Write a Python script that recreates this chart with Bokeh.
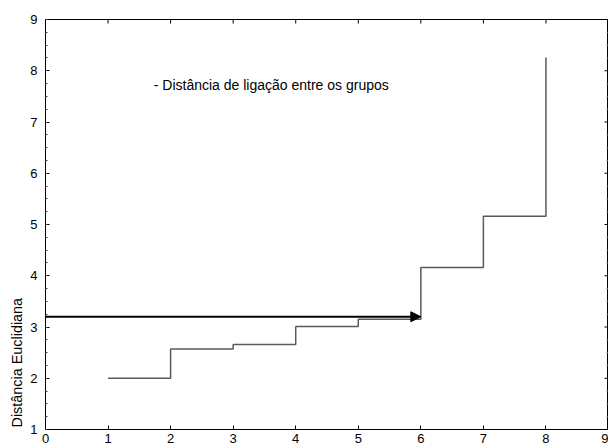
import math
from bokeh.plotting import figure
from bokeh.models import FixedTicker, Title, Arrow, NormalHead, Range1d
from bokeh.core.properties import value
from bokeh.embed import file_html
from bokeh.resources import INLINE

# Data
step_x = [1, 2, 3, 4, 5, 6, 7, 8]
step_y = [2.0, 2.57, 2.66, 3.01, 3.15, 4.16, 5.16, 8.26]
cut_level = 3.2
cut_x_start = 0
cut_x_end = 6
x_ticks = [0, 1, 2, 3, 4, 5, 6, 7, 8, 9]
y_ticks = [1, 2, 3, 4, 5, 6, 7, 8, 9]
y_minor = [1 + i * 0.25 for i in range(33) if (i % 4) != 0]
note_text = "- Distância de ligação entre os grupos"
note_x = 1.73
note_y = 7.73
y_title = "Distância Euclidiana"
x_min, x_max = 0, 9
y_min, y_max = 1, 9

FONT = "Liberation Sans"

p = figure(width=608, height=445, x_range=Range1d(x_min, x_max), y_range=Range1d(y_min, y_max),
           output_backend="svg", toolbar_location=None,
           min_border_left=45, min_border_right=0, min_border_top=19, min_border_bottom=0)
p.grid.visible = False
p.outline_line_color = "black"
p.outline_line_width = 1
p.background_fill_color = "white"
p.border_fill_color = "white"

xt = FixedTicker(ticks=x_ticks, minor_ticks=[])
yt = FixedTicker(ticks=y_ticks, minor_ticks=[y_min + i * 0.25 for i in range(33)])


def style(ax, standoff, size):
    ax.axis_line_color = "black"
    ax.axis_line_width = 1
    ax.major_tick_in = 4
    ax.major_tick_out = 0
    ax.minor_tick_in = 2
    ax.minor_tick_out = 0
    ax.major_tick_line_color = "black"
    ax.minor_tick_line_color = "#444444"
    ax.major_label_text_font = FONT
    ax.major_label_text_color = "black"
    ax.major_label_text_font_size = size
    ax.major_label_standoff = standoff


p.xaxis.ticker = xt
p.yaxis.ticker = yt
style(p.xaxis[0], 4, "13px")
style(p.yaxis[0], 8, "13px")

t = Title(text=y_title, align="left", text_font=FONT, text_font_size="14.4px",
          text_font_style="normal", text_color="black", offset=2, standoff=5)
p.add_layout(t, "left")

# inward ticks on top and right frame edges (markers centered on the edge, clipped by frame)
p.dash(x=x_ticks, y=[y_max] * len(x_ticks), angle=math.pi / 2, size=8,
       line_color="black", line_width=1)
p.dash(x=[x_max] * len(y_ticks), y=y_ticks, size=8, line_color="black", line_width=1)
p.dash(x=[x_max] * len(y_minor), y=y_minor, size=4, line_color="#777777", line_width=1)

p.step(step_x, step_y, mode="after", line_color="#5a5a5a", line_width=1.5)

p.add_layout(Arrow(end=NormalHead(size=10, fill_color="black", line_color="black"),
                   x_start=cut_x_start, y_start=cut_level, x_end=cut_x_end, y_end=cut_level,
                   line_color="black", line_width=2))

p.text(x=[note_x], y=[note_y], text=[note_text], text_font=value(FONT),
       text_font_size="14px", text_baseline="middle", text_align="left", text_color="black")

open("out.html", "w").write(file_html(p, INLINE))
